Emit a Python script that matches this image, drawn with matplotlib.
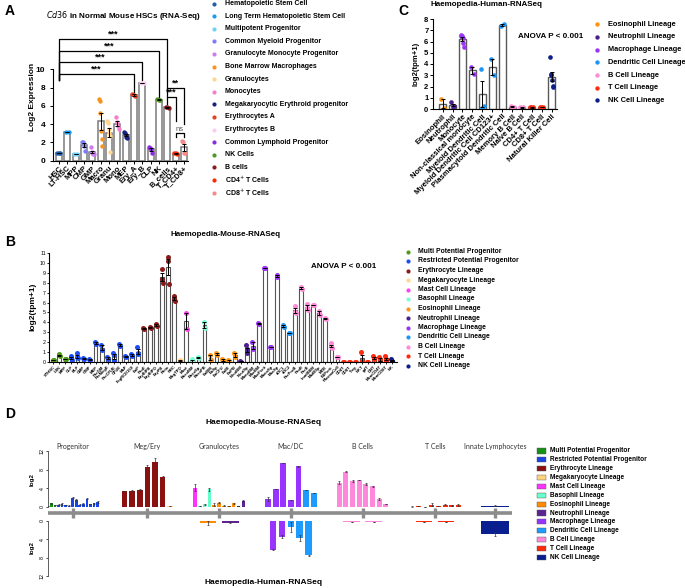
import numpy as np
import matplotlib
matplotlib.use("Agg")
import matplotlib.pyplot as plt
from matplotlib.patches import Rectangle

W, H = 685, 588
plt.rcParams['font.family'] = ['Liberation Sans', 'DejaVu Sans']

# ---------------- panel A : Cd36 in normal mouse HSCs
a_labels = ["HSC", "LT-HSC", "MPP", "CMP", "GMP", "Macro", "Granu", "Mono", "MEP",
            "Ery_A", "Ery_B", "CLP", "NK", "B_cells", "T_CD4+", "T_CD8+"]
a_points = [[0.8, 0.8, 0.8], [3.2, 3.2], [0.75, 0.75], [2.1, 2.0, 1.6, 1.1],
            [1.5, 1.0, 0.8, 0.75, 0.7], [6.8, 6.5, 5.2, 3.3, 2.4, 1.6],
            [4.3, 4.1, 3.5, 3.0, 2.7, 0.9], [4.8, 4.2, 3.8, 3.5],
            [3.1, 3.0, 2.8, 2.6, 2.5], [7.3, 7.2, 7.1], [8.5, 8.5],
            [1.5, 1.4, 1.3, 0.8], [6.8, 6.7, 6.6], [5.9, 5.85, 5.8],
            [0.8, 0.8, 0.75], [2.2, 2.0, 0.8, 0.8]]
a_legend = ["Hematopoietic Stem Cell", "Long Term Hematopoietic Stem Cell",
            "Multipotent Progenitor", "Common Myeloid Progenitor",
            "Granulocyte Monocyte Progenitor", "Bone Marrow Macrophages",
            "Granulocytes", "Monocytes", "Megakaryocytic Erythroid progenitor",
            "Erythrocytes A", "Erythrocytes B", "Common Lymphoid Progenitor",
            "NK Cells", "B cells", "CD4$^{+}$ T Cells", "CD8$^{+}$ T Cells"]
a_colors = ["#1f5fa8", "#1e9af0", "#72d0f5", "#7b7dfa", "#d07af0", "#f7941d",
            "#ffd58f", "#f57fcb", "#17237e", "#e8401c", "#f9ccf2", "#8a2be2",
            "#4c9a2a", "#8b1a1a", "#ff2a00", "#f58a8a"]
# (left bar, right bar, height, left leg end, right leg end, label)
a_sig = [(0, 13, 13.3, 8.8, 7.9, "***"), (0, 12, 12.05, 8.8, 7.0, "***"),
         (0, 10, 10.8, 8.8, 8.8, "***"), (0, 9, 9.55, 8.8, 7.5, "***"),
         (13, 15, 8.0, 7.0, 4.0, "**"), (13, 14, 7.0, 6.2, 4.4, "***"),
         (14, 15, 3.0, 2.6, 2.6, "ns")]

# ---------------- panel B : Haemopedia mouse
lineages = ["Multi Potential Progenitor", "Restricted Potential Progenitor",
            "Erythrocyte Lineage", "Megakaryocyte Lineage", "Mast Cell Lineage",
            "Basophil Lineage", "Eosinophil Lineage", "Neutrophil Lineage",
            "Macrophage Lineage", "Dendritic Cell Lineage", "B Cell Lineage",
            "T Cell Lineage", "NK Cell Lineage"]
lin_colors = ["#4f9a1a", "#1d4ef5", "#8b1a1a", "#ffd68a", "#ff40f0", "#7affd6",
              "#ff9410", "#4b1f8c", "#9a35f5", "#1e96f5", "#ff8ad8", "#ff2a10",
              "#0b1f8c"]
d_colors = ["#169016", "#1a45e6", "#8b1010", "#ffd27f", "#ff33ff", "#66ffcc",
            "#ff8c00", "#5a2590", "#9933ff", "#1e9bff", "#ff88dd", "#ff2a0a",
            "#0a1f8f"]
mouse_counts = [3, 12, 6, 1, 1, 3, 5, 2, 5, 2, 8, 8, 1]
mouse_labels = ["STHSC", "LSK", "MPP",
                "CLP", "BLP", "CMP", "GMP", "MEP", "PreGM", "PreMegE", "PreCFUE",
                "CFUE", "MkP", "FcgRCD150", "EoP",
                "ProE", "EryBlPB", "EryBlPO", "EryPB", "Retic", "RBC",
                "MegTPO", "Mast",
                "BasoBM", "BasoSp", "BasoPB",
                "EoBM", "EoSp", "EoCFU", "EoBl", "EoPB",
                "NeutBM", "NeutSp",
                "MonoBM", "MacBM", "MacPerit", "MonoSp", "MacSp",
                "cDC1", "cDC2",
                "PreProB", "ProB", "PreB", "ImmBBM", "MatBSp", "MZB", "B1Perit",
                "PlasmaCell",
                "CD4T", "CD8T", "Treg", "NKT", "gdT", "DNT", "MemCD4T", "MemCD8T",
                "NK"]
mouse_points = [[0.2, 0.25], [0.8, 0.7, 0.6], [0.35, 0.3],
                [0.6, 0.4, 0.2], [0.9, 0.5, 0.4], [0.45, 0.3], [0.3, 0.2],
                [2.05, 1.8], [1.7, 1.2], [0.5, 0.3], [0.9, 0.7, 0.15],
                [1.85, 1.6], [0.65, 0.55], [0.85, 0.6], [1.5, 0.85, 0.9],
                [3.45, 3.3], [3.55, 3.4], [3.8, 3.6], [9.4, 8.35, 8.0],
                [10.6, 10.2, 7.9], [6.7, 6.4, 6.2],
                [0.25, 0.15], [4.9, 3.3],
                [0.3, 0.0, 0.1], [0.5, 0.45], [4.05, 3.45],
                [0.7, 0.2], [0.95, 0.75], [0.3, 0.1], [0.2, 0.05], [0.9, 0.5],
                [0.15, 0.05], [1.7, 1.3, 1.0, 0.9],
                [2.0, 1.3], [3.9, 3.85], [9.5, 9.5], [1.5, 1.5], [8.8, 8.6],
                [3.7, 3.5], [2.9, 2.9],
                [5.7, 5.0, 4.9], [7.6, 7.4], [5.9, 5.4, 5.2], [5.8, 5.75],
                [5.1, 4.7], [4.4, 4.35], [1.9, 1.6, 1.4], [0.55, 0.5],
                [0.0, 0.05], [0.05, 0.05], [0.0, 0.0], [1.0, 0.05, 0.1],
                [0.05, 0.05], [0.6, 0.3, 0.4], [0.5, 0.3, 0.0], [0.6, 0.3, 0.1],
                [0.35, 0.15, 0.05]]

# ---------------- panel C : Haemopedia human
c_labels = ["Eosinophil", "Neutrophil", "Monocyte", "Non-classical monocyte",
            "Myeloid Dendritic Cell", "Myeloid Dendritic Cell CD123+",
            "Plasmacytoid Dendritic Cell", "Memory B Cell", "Naive B Cell",
            "CD4+ T Cell", "CD8+ T Cell", "Natural Killer Cell"]
c_lineage = [6, 7, 8, 8, 9, 9, 9, 10, 10, 11, 11, 12]
c_points = [[0.85, 0.05], [0.6, 0.2, 0.25],
            [6.55, 6.5, 6.45, 6.4, 6.3, 5.9, 5.5], [3.75, 3.1],
            [3.6, 0.1, 0.25], [4.45, 3.0], [7.4, 7.6],
            [0.25, 0.2, 0.15], [0.15, 0.12, 0.18], [0.2, 0.15, 0.1, 0.15],
            [0.18, 0.15, 0.12, 0.15], [4.6, 3.1, 3.0, 2.6, 2.05, 1.95]]
c_legend = [6, 7, 8, 9, 10, 11, 12]

# ---------------- panel D groups
d_groups = ["Progenitor", "Meg/Ery", "Granulocytes", "Mac/DC", "B Cells",
            "T Cells", "Innate Lymphocytes"]
d_mouse_sizes = [15, 7, 11, 7, 8, 8, 1]
d_human_sizes = [0, 0, 2, 5, 2, 2, 1]


def mean_sem(pts):
    m = np.array([np.mean(p) for p in pts])
    s = np.array([np.std(p, ddof=1) / np.sqrt(len(p)) if len(p) > 1 else 0 for p in pts])
    return m, s


def spread(n, w):
    if n == 1:
        return np.zeros(1)
    return np.linspace(-w, w, n)


def box(x0, y0, x1, y1):
    return [x0 / W, 1 - y1 / H, (x1 - x0) / W, (y1 - y0) / H]


def dot_bars(ax, pts, colors, width, edge, lw, ms, jit):
    m, s = mean_sem(pts)
    x = np.arange(len(pts))
    ax.bar(x, m, width, color="white", edgecolor=edge, linewidth=lw, zorder=1)
    ax.errorbar(x, m, yerr=s, fmt="none", ecolor="black", elinewidth=0.7,
                capsize=1.3, capthick=0.7, zorder=3)
    for i, p in enumerate(pts):
        ax.scatter(i + spread(len(p), jit), p, s=ms, color=colors[i],
                   linewidths=0, zorder=2)
    for sp in ["top", "right"]:
        ax.spines[sp].set_visible(False)
    ax.patch.set_alpha(0)


fig = plt.figure(figsize=(6.85, 5.88), dpi=100)

# ---- A
axA = fig.add_axes(box(53, 33, 188, 160.7))
dot_bars(axA, a_points, a_colors, 0.72, "#7a7a7a", 1.1, 10, 0.18)
axA.set_xlim(-0.72, 15.5)
axA.set_ylim(0, 14)
axA.spines["left"].set_bounds(0, 10)
axA.set_yticks([0, 2, 4, 6, 8, 10])
axA.set_xticks(range(len(a_labels)))
axA.set_xticklabels(a_labels, rotation=45, ha="right", rotation_mode="anchor",
                    fontsize=5.5, fontweight="bold")
axA.tick_params(axis="y", labelsize=6, length=2, width=0.7)
axA.tick_params(axis="x", length=2, width=0.7, pad=1)
for t in axA.get_yticklabels():
    t.set_fontweight("bold")
for i, j, h, le, re, lab in a_sig:
    axA.plot([i, i, j, j], [le, h, h, re], color="black", lw=0.9, clip_on=False)
    axA.text((i + j) / 2, h + 0.05, lab, ha="center", va="bottom",
             fontsize=6.5 if lab != "ns" else 5.5, fontweight="bold" if lab != "ns" else "normal",
             color="black" if lab != "ns" else "#555555")

# ---- B
mouse_colors = [lin_colors[k] for k, n in enumerate(mouse_counts) for _ in range(n)]
axB = fig.add_axes(box(49.3, 252.7, 396.7, 362.3))
dot_bars(axB, mouse_points, mouse_colors, 0.62, "#555555", 0.8, 13, 0.08)
axB.set_xlim(-0.66, 56.8)
axB.set_ylim(0, 11)
axB.set_yticks(range(12))
axB.set_xticks(range(len(mouse_labels)))
axB.set_xticklabels(mouse_labels, rotation=45, ha="right", rotation_mode="anchor",
                    fontsize=3, fontweight="bold")
axB.tick_params(axis="y", labelsize=3.8, length=1.5, width=0.6, pad=1)
axB.tick_params(axis="x", length=1.5, width=0.6, pad=0.5)

# ---- C
c_colors = [lin_colors[k] for k in c_lineage]
axC = fig.add_axes(box(433.3, 19, 556.7, 109))
dot_bars(axC, c_points, c_colors, 0.7, "#5a5a5a", 1.0, 11, 0.15)
axC.set_xlim(-0.94, 11.5)
axC.set_ylim(0, 8)
axC.set_yticks(range(9))
axC.set_xticks(range(len(c_labels)))
axC.set_xticklabels(c_labels, rotation=45, ha="right", rotation_mode="anchor",
                    fontsize=5.5, fontweight="bold")
axC.tick_params(axis="y", labelsize=5.5, length=2, width=0.7, pad=1.5)
axC.tick_params(axis="x", length=2, width=0.7, pad=1)
for t in axC.get_yticklabels():
    t.set_fontweight("bold")

# ---- D
d_centers = [0.33, 1.34, 2.31, 3.28, 4.25, 5.23, 6.04]
m_mean, m_sem = mean_sem(mouse_points)
h_mean, h_sem = mean_sem(c_points)
m_col = [d_colors[k] for k, n in enumerate(mouse_counts) for _ in range(n)]
h_col = [d_colors[k] for k in c_lineage]


def group_bars(ax, sizes, means, sems, cols, span2):
    k = 0
    for g, n in enumerate(sizes):
        if n == 0:
            continue
        span = 0.37 if n == 1 else min(span2, 0.3 * n)
        pitch = span / n
        wdt = 0.37 if n == 1 else pitch * 0.75
        xs = d_centers[g] - span / 2 + pitch * (np.arange(n) + 0.5)
        ax.bar(xs, means[k:k + n], wdt, color=cols[k:k + n], zorder=2)
        ax.errorbar(xs, means[k:k + n], yerr=sems[k:k + n], fmt="none",
                    ecolor="#333333", elinewidth=0.5, capsize=1, capthick=0.5)
        k += n


axDt = fig.add_axes(box(48.3, 451, 512, 506.7))
axDb = fig.add_axes(box(48.3, 521, 512, 576))
group_bars(axDt, d_mouse_sizes, m_mean, m_sem, m_col, 0.72)
group_bars(axDb, d_human_sizes, h_mean, h_sem, h_col, 0.6)
for ax, lim in [(axDt, (0, 12)), (axDb, (12, 0))]:
    ax.set_xlim(0, 6.27)
    ax.set_ylim(*lim)
    ax.set_yticks([0, 4, 8, 12])
    ax.set_xticks([])
    for sp in ["top", "right", "bottom"]:
        ax.spines[sp].set_visible(False)
    ax.spines["left"].set_linewidth(0.6)
    ax.spines["left"].set_color("#444444")
    ax.tick_params(axis="y", labelsize=3.8, length=1.5, width=0.5, pad=1)
    for t in ax.get_yticklabels():
        t.set_rotation(90)
        t.set_va("center")
    ax.patch.set_alpha(0)
axDt.plot([0, 6.27], [-1.3, -1.3], color="#8c8c8c", lw=2.6, clip_on=False,
          solid_capstyle="butt")
for c in d_centers:
    axDt.plot([c, c], [-0.3, -2.4], color="#8c8c8c", lw=2.4, clip_on=False,
              solid_capstyle="butt")
for g, c in enumerate(d_centers):
    axDt.text(c, 12.9, d_groups[g], ha="center", va="center", fontsize=5,
              family=["Lato", "DejaVu Sans"], color="#333333")

# ---- overlay for panel letters, titles, legends
ov = fig.add_axes([0, 0, 1, 1])
ov.set_xlim(0, W)
ov.set_ylim(H, 0)
ov.axis("off")

for lab, x, y in [("A", 5, 11), ("B", 5, 242), ("C", 398, 11), ("D", 5, 414)]:
    ov.text(x, y, lab, fontsize=10, fontweight="bold", ha="left", va="center")

ov.text(123, 15, r"$\it{Cd36}$ in Normal Mouse HSCs (RNA-Seq)", fontsize=5.8,
        fontweight="bold", ha="center", va="center")
ov.text(33, 97, "Log2 Expression", rotation=90, fontsize=6, fontweight="bold",
        ha="center", va="center")
ov.text(226, 235, "Haemopedia-Mouse-RNASeq", fontsize=5.8, fontweight="bold",
        ha="center", va="center")
ov.text(344, 267, "ANOVA P < 0.001", fontsize=5.8, fontweight="bold",
        ha="center", va="center")
ov.text(33, 307, "log2(tpm+1)", rotation=90, fontsize=6, fontweight="bold",
        ha="center", va="center")
ov.text(487, 4.5, "Haemopedia-Human-RNASeq", fontsize=5.8, fontweight="bold",
        ha="center", va="center")
ov.text(551, 37, "ANOVA P < 0.001", fontsize=5.8, fontweight="bold",
        ha="center", va="center")
ov.text(416, 64, "log2(tpm+1)", rotation=90, fontsize=5.6, fontweight="bold",
        ha="center", va="center")
ov.text(264, 423, "Haemopedia-Mouse-RNASeq", fontsize=6, fontweight="bold",
        ha="center", va="center")
ov.text(264, 583, "Haemopedia-Human-RNASeq", fontsize=6, fontweight="bold",
        ha="center", va="center")
ov.text(32, 480, "log2", rotation=90, fontsize=4.5, fontweight="bold",
        ha="center", va="center")
ov.text(32, 548, "log2", rotation=90, fontsize=4.5, fontweight="bold",
        ha="center", va="center")

# legend A
for i, (lab, col) in enumerate(zip(a_legend, a_colors)):
    y = 3.5 + i * 12.6
    ov.scatter(214, y, s=9, color=col, linewidths=0)
    ov.text(225, y, lab, fontsize=5, fontweight="bold", ha="left", va="center")
# legend B
for i, (lab, col) in enumerate(zip(lineages, lin_colors)):
    y = 251.5 + i * 9.5
    ov.scatter(408, y, s=9, color=col, linewidths=0)
    ov.text(418, y, lab, fontsize=4.9, fontweight="bold", ha="left", va="center")
# legend C
for i, k in enumerate(c_legend):
    y = 24.3 + i * 12.7
    ov.scatter(597, y, s=10, color=lin_colors[k], linewidths=0)
    ov.text(608, y, lineages[k], fontsize=5.3, fontweight="bold", ha="left",
            va="center")
# legend D
for i, (lab, col) in enumerate(zip(lineages, d_colors)):
    y = 451 + i * 8.86
    ov.add_patch(Rectangle((536.7, y - 2.6), 9, 5.2, facecolor=col,
                           edgecolor="#555555", linewidth=0.3))
    ov.text(550, y, lab, fontsize=4.7, fontweight="bold", ha="left", va="center")

fig.savefig("out.png", dpi=100)
